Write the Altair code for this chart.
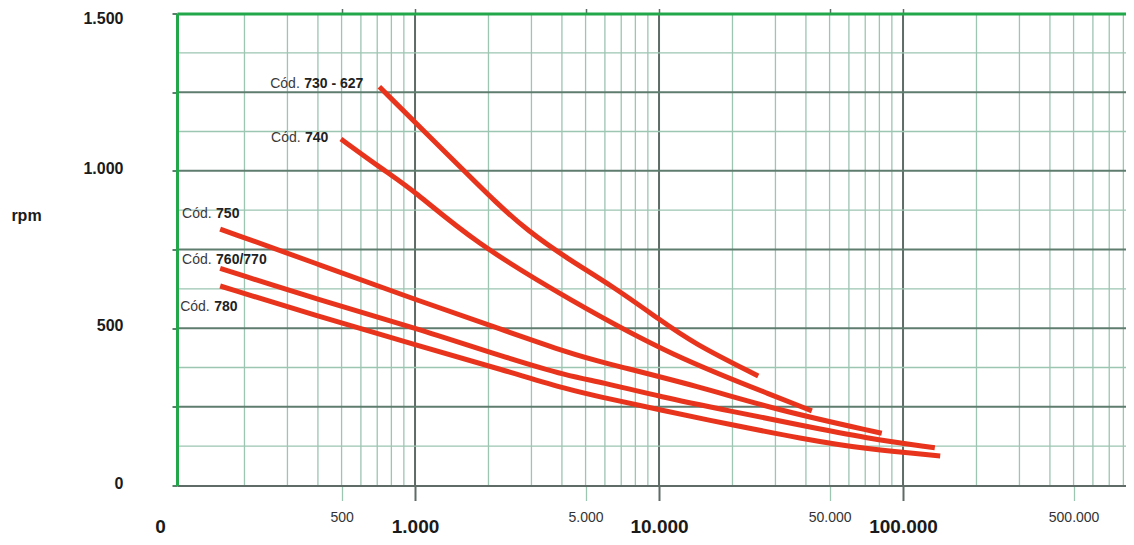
import altair as alt
import pandas as pd

FONT = "Liberation Sans"

# ---- curves (rpm vs. x) ----
s730_x = [714, 1528, 2163, 2870, 4190, 6500, 10090, 13830, 25500]
s730_y = [1267, 1013, 897, 812, 722, 632, 526, 452, 348]
s740_x = [497, 741, 984, 1733, 4315, 11460, 31300, 42300]
s740_y = [1101, 1003, 939, 775, 589, 409, 278, 237]
s750_x = [159, 408, 1016, 2300, 4315, 5730, 14720, 30340, 81800]
s750_y = [815, 701, 589, 494, 420, 393, 314, 240, 166]
s760_x = [159, 408, 1016, 2300, 4315, 5730, 10090, 20100, 37800, 71000, 135000]
s760_y = [690, 589, 500, 409, 346, 330, 282, 235, 192, 150, 120]
s780_x = [159, 408, 1016, 2300, 4315, 5730, 10090, 20100, 37800, 71000, 142000]
s780_y = [634, 536, 446, 367, 303, 282, 240, 192, 150, 115, 94]

series_names = ["730 - 627", "740", "750", "760/770", "780"]

# ---- curve labels ----
label_prefix = ["Cód.", "Cód.", "Cód.", "Cód.", "Cód."]
label_codes = ["730 - 627", "740", "750", "760/770", "780"]
label_x = [255, 257, 111, 111, 109]
label_y = [1276, 1104, 863, 717, 567]

# ---- grid and ticks ----
minor_x = [200, 300, 400, 500, 600, 700, 800, 900,
           2000, 3000, 4000, 5000, 6000, 7000, 8000, 9000,
           20000, 30000, 40000, 50000, 60000, 70000, 80000, 90000,
           200000, 300000, 400000, 500000, 600000, 700000, 800000]
major_x = [1000, 10000, 100000]
h_major = [250, 500, 750, 1000, 1250]
h_minor = [125, 375, 625, 875, 1125, 1375]
minor_ticks = [500, 5000, 50000, 500000]
major_ticks = [1000, 10000, 100000]
top_ticks = [500, 1000, 5000, 10000, 50000, 100000]
y_ticks = [0, 250, 500, 750, 1000, 1250, 1500]

X_MIN, X_MAX = 105.8, 820000
xscale = alt.Scale(type="log", domain=[X_MIN, X_MAX], nice=False)
yscale = alt.Scale(domain=[0, 1500], nice=False)

GREEN = "#22a84a"
DARK = "#5e6b66"
thousands = "replace(format(datum.value, ','), ',', '.')"

rows = []
for name, xs, ys in zip(series_names,
                        [s730_x, s740_x, s750_x, s760_x, s780_x],
                        [s730_y, s740_y, s750_y, s760_y, s780_y]):
    for i, (a, b) in enumerate(zip(xs, ys)):
        rows.append({"series": name, "x": a, "y": b, "o": i})
curves_df = pd.DataFrame(rows)
labels_df = pd.DataFrame({"p": label_prefix, "code": label_codes, "x": label_x, "y": label_y})

v_minor = alt.Chart(pd.DataFrame({"x": minor_x})).mark_rule(
    color="#9cc5b2", strokeWidth=1.3
).encode(
    x=alt.X("x:Q", scale=xscale, axis=alt.Axis(
        orient="bottom", values=minor_ticks, grid=False, title=None,
        domain=True, domainColor=DARK, domainWidth=2,
        ticks=True, tickSize=15, tickColor="#9cc5b2", tickWidth=1.3,
        labelExpr=thousands, labelFont=FONT, labelFontSize=14, labelColor="#333333",
        labelBaseline="middle", labelPadding=17, labelFlush=False, labelOverlap=False,
        labelBound=False, zindex=1))
)

v_major = alt.Chart(pd.DataFrame({"x": major_x})).mark_rule(
    color=DARK, strokeWidth=2
).encode(
    x=alt.X("x:Q", scale=xscale, axis=alt.Axis(
        orient="bottom", values=major_ticks, grid=False, title=None, domain=False,
        ticks=True, tickSize=15, tickColor=DARK, tickWidth=2,
        labelExpr=thousands, labelFont=FONT, labelFontSize=19, labelFontWeight="bold",
        labelColor="#1a1a1a", labelBaseline="middle", labelPadding=26,
        labelFlush=False, labelOverlap=False, labelBound=False))
)

hm = alt.Chart(pd.DataFrame({"y": h_minor})).mark_rule(
    color="#9cc5b2", strokeWidth=1.3
).encode(y=alt.Y("y:Q", scale=yscale, axis=None))

hM = alt.Chart(pd.DataFrame({"y": h_major})).mark_rule(
    color="#5f7d6f", strokeWidth=2
).encode(
    y=alt.Y("y:Q", scale=yscale, axis=alt.Axis(
        orient="left", values=y_ticks, grid=False,
        domain=True, domainColor=GREEN, domainWidth=3,
        ticks=True, tickSize=5, tickColor="#5f7d6f", tickWidth=2,
        labelExpr="datum.value % 500 == 0 ? " + thousands + " : ''",
        labelFont=FONT, labelFontSize=16, labelFontWeight="bold", labelColor="#1a1a1a",
        labelPadding=49, labelBaseline="middle", labelFlush=False, labelOverlap=False,
        labelOffset={"condition": {"test": "datum.value == 1500", "value": 4.5}, "value": -2.5},
        title="rpm", titleAngle=0, titleX=-151, titleY=202, titleAlign="center",
        titleBaseline="middle", titleFont=FONT, titleFontSize=16, titleFontWeight="bold",
        titleColor="#1a1a1a", zindex=1))
)

curves = alt.Chart(curves_df).mark_line(
    color="#e8341c", strokeWidth=5, interpolate="basis", strokeCap="butt"
).encode(
    x=alt.X("x:Q", scale=xscale, axis=alt.Axis(
        orient="top", values=top_ticks, grid=False, title=None, labels=False,
        domain=True, domainColor=GREEN, domainWidth=3,
        ticks=True, tickSize=5, tickColor=DARK, tickWidth=1.5, zindex=1)),
    y=alt.Y("y:Q", scale=yscale, axis=None),
    detail="series:N",
    order="o:Q",
)

prefix = alt.Chart(labels_df).mark_text(
    align="left", baseline="middle", font=FONT, fontSize=14, color="#3a3a3a"
).encode(
    x=alt.X("x:Q", scale=xscale, axis=alt.Axis(
        orient="bottom", values=[X_MIN], labelExpr="'0'", grid=False, title=None,
        domain=False, ticks=False, labelFont=FONT, labelFontSize=19, labelFontWeight="bold",
        labelColor="#1a1a1a", labelBaseline="middle", labelPadding=41, labelOffset=-17,
        labelAlign="center", labelFlush=False, labelOverlap=False, labelBound=False)),
    y=alt.Y("y:Q", scale=yscale, axis=None),
    text="p:N",
)

codes = alt.Chart(labels_df).mark_text(
    align="left", baseline="middle", font=FONT, fontSize=14, fontWeight="bold",
    color="#222222", dx=34
).encode(
    x=alt.X("x:Q", scale=xscale, axis=None),
    y=alt.Y("y:Q", scale=yscale, axis=None),
    text="code:N",
)

chart = alt.layer(v_minor, v_major, hm, hM, curves, prefix, codes).resolve_axis(
    x="independent", y="independent"
).properties(
    width=949, height=472,
    padding={"left": 169, "top": 5.5, "right": 0, "bottom": 51.5},
    autosize=alt.AutoSizeParams(type="none"),
    background="white",
).configure_view(stroke=None)

chart.save("out.html", embed_options={"renderer": "svg", "actions": False})
